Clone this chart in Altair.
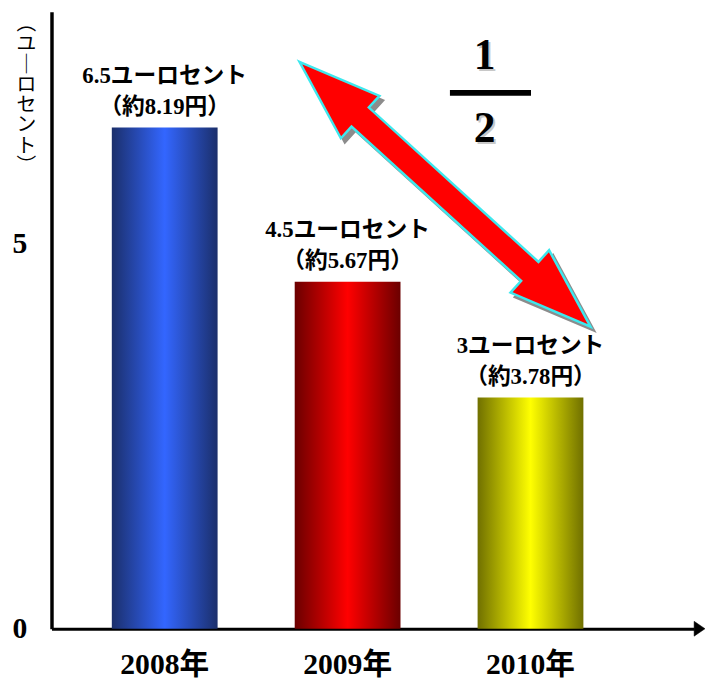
import altair as alt
import pandas as pd

years = ["2008年", "2009年", "2010年"]
cents = [6.5, 4.5, 3.0]
cent_labels = ["6.5ユーロセント", "4.5ユーロセント", "3ユーロセント"]
yen_labels = ["（約8.19円）", "（約5.67円）", "（約3.78円）"]
y_title_chars = ["︵", "ユ", "｜", "ロ", "セ", "ン", "ト", "︶"]
fraction_top = "1"
fraction_bottom = "2"

edge_colors = ["#1b2f6b", "#6b0000", "#707000"]
center_colors = ["#3366ff", "#ff0000", "#ffff00"]

df = pd.DataFrame({
    "year": years,
    "cents": cents,
    "line1": cent_labels,
    "line2": yen_labels,
})

W, H = 650, 624
SERIF = "Liberation Serif, Noto Sans CJK JP"

x_enc = alt.X(
    "year:N", sort=years, title=None,
    scale=alt.Scale(paddingInner=0.4216, paddingOuter=0.4676, align=0.3526),
    axis=alt.Axis(domainColor="black", domainWidth=3, ticks=False, labelAngle=0,
                  labelFont=SERIF, labelFontWeight="bold", labelFontSize=30,
                  labelColor="black", labelBaseline="middle", labelPadding=36),
)
y_enc = alt.Y(
    "cents:Q", scale=alt.Scale(domain=[0, 8], nice=False),
    title=y_title_chars,
    axis=alt.Axis(values=[0, 5], format="d", grid=False, ticks=False,
                  domainColor="black", domainWidth=3.5, labelFont=SERIF,
                  labelFontWeight="bold", labelFontSize=30, labelColor="black",
                  labelPadding=25, labelBaseline="middle",
                  titleAngle=0, titleX=-26, titleY=2, titleAlign="center",
                  titleBaseline="top", titleFont="Noto Sans CJK JP",
                  titleFontWeight="normal", titleFontSize=20,
                  titleLineHeight=20.5, titleColor="black"),
)

base = alt.Chart(df)
layers = []
for yr, ec, cc in zip(years, edge_colors, center_colors):
    grad = alt.Gradient(
        gradient="linear", x1=0, x2=1, y1=0, y2=0,
        stops=[alt.GradientStop(color=ec, offset=0),
               alt.GradientStop(color=cc, offset=0.5),
               alt.GradientStop(color=ec, offset=1)],
    )
    layers.append(
        base.transform_filter(alt.datum.year == yr)
        .mark_bar(color=grad)
        .encode(x=x_enc, y=y_enc)
    )

label1 = base.mark_text(
    font=SERIF, fontWeight="bold", fontSize=23, color="black",
    baseline="middle", align="center", dy=-52,
).encode(x=alt.X("year:N", sort=years), y="cents:Q", text="line1:N")
label2 = base.mark_text(
    font=SERIF, fontWeight="bold", fontSize=23, color="black",
    baseline="middle", align="center", dy=-21,
).encode(x=alt.X("year:N", sort=years), y="cents:Q", text="line2:N")

arrow_path = ("M -199 0 L -116 -29 L -116 -13 L 116 -13 L 116 -29 L 199 0 "
              "L 116 29 L 116 13 L -116 13 L -116 29 Z")
deco = alt.Chart(pd.DataFrame({"k": [0]}))
arrow_shadow = deco.mark_point(
    shape=arrow_path, size=4, angle=42.3, filled=True, fill="#8c8c8c",
    stroke="#8c8c8c", strokeWidth=2, opacity=1,
).encode(x=alt.value(402), y=alt.value(189))
arrow = deco.mark_point(
    shape=arrow_path, size=4, angle=42.3, filled=True, fill="#ff0000",
    stroke="#3ee8ee", strokeWidth=2.5, opacity=1,
).encode(x=alt.value(398), y=alt.value(184.5))

axis_head = deco.mark_point(
    shape="M 0 -7.5 L 11 0 L 0 7.5 Z", size=4, filled=True, fill="black",
    stroke="black", strokeWidth=0.5, opacity=1,
).encode(x=alt.value(W), y=alt.value(H))

frac_layers = []
for txt, yy in [(fraction_top, 45), (fraction_bottom, 119)]:
    frac_layers.append(deco.mark_text(
        font="Liberation Serif", fontWeight="bold", fontSize=44, color="#c8c8c8",
        baseline="middle", align="center",
    ).encode(x=alt.value(440), y=alt.value(yy + 2), text=alt.value(txt)))
    frac_layers.append(deco.mark_text(
        font="Liberation Serif", fontWeight="bold", fontSize=44, color="black",
        baseline="middle", align="center",
    ).encode(x=alt.value(438), y=alt.value(yy), text=alt.value(txt)))
frac_line = deco.mark_rule(color="black", strokeWidth=6).encode(
    x=alt.value(403), x2=alt.value(485), y=alt.value(82))

chart = alt.layer(
    *layers, label1, label2, arrow_shadow, arrow, *frac_layers, frac_line, axis_head
).properties(
    width=W, height=H, background="white",
    autosize=alt.AutoSizeParams(type="none"),
    padding={"left": 44, "top": 0, "right": 11, "bottom": 50},
).configure_view(stroke=None)

chart.save("out.html", embed_options={"renderer": "svg", "actions": False})
